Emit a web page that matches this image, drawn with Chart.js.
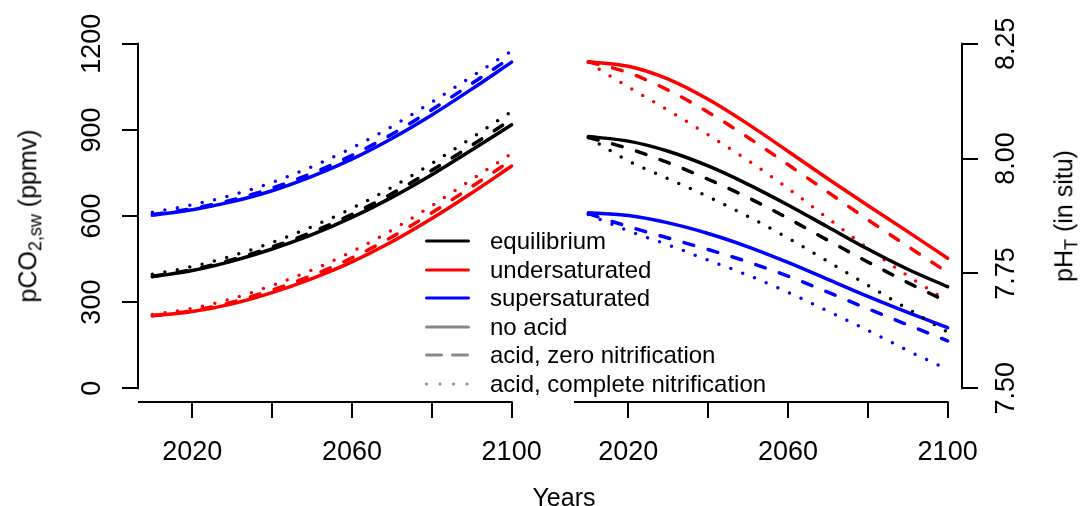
<!DOCTYPE html>
<html>
<head>
<meta charset="utf-8">
<script src="https://cdn.jsdelivr.net/npm/chart.js@4.4.1/dist/chart.umd.min.js"></script>
<style>
  body { margin: 0; width: 1080px; height: 506px; background: #fff; position: relative; overflow: hidden;
         font-family: "Liberation Sans", Arial, Helvetica, sans-serif; color: #000; }
  canvas { position: absolute; top: 0; }
  #c1 { left: 0; }
  #c2 { left: 545px; }
  .ttl { position: absolute; font-size: 25px; white-space: nowrap; transform: translate(-50%, -50%) rotate(-90deg); }
  .ttl sub { font-size: 0.72em; vertical-align: -0.3em; }
  #years { position: absolute; left: 564px; top: 497px; font-size: 25px; transform: translate(-50%, -50%); }
  #legend { position: absolute; left: 425px; top: 227px; font-size: 24px; }
  #legend .row { height: 28.5px; display: flex; align-items: center; white-space: nowrap; }
  #legend svg { width: 45px; height: 10px; margin-right: 20px; }
</style>
</head>
<body>
<canvas id="c1" width="545" height="506"></canvas>
<canvas id="c2" width="535" height="506"></canvas>
<div class="ttl" style="left:30px; top:216px;">pCO<sub>2,sw</sub> (ppmv)</div>
<div class="ttl" style="left:1066px; top:216px;">pH<sub>T</sub> (in situ)</div>
<div id="years">Years</div>
<div id="legend"></div>
<script>
// years of the model runs
const years = [2010, 2020, 2030, 2040, 2050, 2060, 2070, 2080, 2090, 2100];

// pCO2 (ppmv), left panel
const co2Equil     = [388, 410, 443, 485, 535, 595, 665, 744, 830, 918];
const co2EquilDash = [390, 413, 448, 492, 544, 606, 678, 759, 846, 937];
const co2EquilDot  = [397, 424, 461, 508, 563, 627, 700, 783, 872, 964];
const co2Under     = [252, 267, 294, 333, 382, 440, 510, 591, 680, 774];
const co2UnderDash = [253, 270, 300, 342, 393, 454, 527, 611, 702, 795];
const co2UnderDot  = [257, 278, 312, 358, 412, 476, 551, 636, 727, 818];
const co2Super     = [603, 622, 650, 688, 738, 798, 870, 952, 1042, 1136];
const co2SuperDash = [605, 626, 656, 697, 749, 811, 885, 970, 1061, 1154];
const co2SuperDot  = [613, 639, 673, 717, 772, 837, 912, 997, 1086, 1175];

// pH (total scale, in situ), right panel
const phEquil     = [8.048, 8.038, 8.016, 7.984, 7.944, 7.899, 7.851, 7.803, 7.759, 7.721];
const phEquilDash = [8.046, 8.022, 7.991, 7.955, 7.915, 7.870, 7.822, 7.775, 7.730, 7.688];
const phEquilDot  = [8.046, 7.995, 7.956, 7.917, 7.874, 7.827, 7.776, 7.724, 7.673, 7.622];
const phUnder     = [8.211, 8.201, 8.173, 8.129, 8.075, 8.016, 7.956, 7.898, 7.841, 7.783];
const phUnderDash = [8.211, 8.187, 8.149, 8.101, 8.046, 7.987, 7.927, 7.867, 7.809, 7.752];
const phUnderDot  = [8.209, 8.156, 8.105, 8.052, 7.996, 7.935, 7.870, 7.805, 7.745, 7.690];
const phSuper     = [7.882, 7.876, 7.860, 7.837, 7.808, 7.774, 7.737, 7.700, 7.665, 7.632];
const phSuperDash = [7.880, 7.852, 7.827, 7.802, 7.775, 7.744, 7.709, 7.673, 7.638, 7.603];
const phSuperDot  = [7.878, 7.843, 7.812, 7.779, 7.746, 7.709, 7.668, 7.626, 7.582, 7.541];

// axis ticks
const xTicks = [2020, 2040, 2060, 2080, 2100];
const xTickLabels = ['2020', '', '2060', '', '2100'];
const co2Ticks = [0, 300, 600, 900, 1200];
const co2TickLabels = ['0', '300', '600', '900', '1200'];
const phTicks = [7.50, 7.75, 8.00, 8.25];
const phTickLabels = ['7.50', '7.75', '8.00', '8.25'];

const legendLabels = ['equilibrium', 'undersaturated', 'supersaturated', 'no acid',
                      'acid, zero nitrification', 'acid, complete nitrification'];

const FONT = '"Liberation Sans", Arial, Helvetica, sans-serif';
const RED = '#ff0000', BLUE = '#0000ff', BLACK = '#000000', GREY = '#888888';
const DASH = [10, 15], DOT = [0, 12.7];

function line(data, color, dash) {
  return {
    data: data.map((v, i) => ({ x: years[i], y: v })),
    borderColor: color,
    borderWidth: 3.5,
    borderDash: dash || [],
    borderCapStyle: 'round',
    pointRadius: 0,
    cubicInterpolationMode: 'monotone',
    fill: false,
    clip: false
  };
}

// R-style detached axes: axis lines only across the tick range, rotated y labels
const rAxes = {
  id: 'rAxes',
  afterDraw(chart, args, opts) {
    const ctx = chart.ctx, xs = chart.scales.x, ys = chart.scales.y, a = chart.chartArea;
    ctx.save();
    ctx.strokeStyle = '#000';
    ctx.lineWidth = 2;
    const xEnd = xs.getPixelForValue(xs.ticks[xs.ticks.length - 1].value);
    ctx.beginPath();
    ctx.moveTo(a.left, a.bottom);
    ctx.lineTo(xEnd + 1, a.bottom);
    ctx.stroke();
    const yx = opts.side === 'left' ? a.left : a.right;
    ctx.beginPath();
    ctx.moveTo(yx, ys.getPixelForValue(ys.ticks[0].value) + 1);
    ctx.lineTo(yx, ys.getPixelForValue(ys.ticks[ys.ticks.length - 1].value) - 1);
    ctx.stroke();
    ctx.fillStyle = '#000';
    ctx.font = '27px ' + FONT;
    ctx.textAlign = 'center';
    ctx.textBaseline = 'middle';
    const lx = opts.side === 'left' ? yx - opts.gap : yx + opts.gap;
    ys.ticks.forEach((t, i) => {
      ctx.save();
      ctx.translate(lx, ys.getPixelForValue(t.value));
      ctx.rotate(-Math.PI / 2);
      ctx.fillText(opts.labels[i], 0, 0);
      ctx.restore();
    });
    ctx.restore();
  }
};

function makeChart(id, datasets, side, yMin, yMax, yTicks, yLabels, padding, yWidth) {
  return new Chart(document.getElementById(id), {
    type: 'line',
    data: { datasets: datasets },
    options: {
      responsive: false,
      animation: false,
      layout: { padding: padding },
      plugins: {
        legend: { display: false },
        tooltip: { enabled: false },
        rAxes: { side: side, labels: yLabels, gap: 45 }
      },
      scales: {
        x: {
          type: 'linear',
          min: 2006.4,
          max: 2103.6,
          afterBuildTicks: s => { s.ticks = xTicks.map(v => ({ value: v })); },
          afterFit: s => { s.height = 104; s.paddingLeft = 0; s.paddingRight = 0; },
          grid: { drawOnChartArea: false, drawTicks: true, tickLength: 16, color: '#000', lineWidth: 2 },
          border: { display: false },
          ticks: {
            autoSkip: false,
            maxRotation: 0,
            padding: 18,
            color: '#000',
            font: { family: FONT, size: 27 },
            callback: (v, i) => xTickLabels[i]
          }
        },
        y: {
          type: 'linear',
          position: side,
          min: yMin,
          max: yMax,
          afterBuildTicks: s => { s.ticks = yTicks.map(v => ({ value: v })); },
          afterFit: s => { s.width = yWidth; s.paddingTop = 0; s.paddingBottom = 0; },
          grid: { drawOnChartArea: false, drawTicks: true, tickLength: 16, color: '#000', lineWidth: 2 },
          border: { display: false },
          ticks: { display: false }
        }
      }
    },
    plugins: [rAxes]
  });
}

makeChart('c1', [
  line(co2Equil, BLACK), line(co2EquilDash, BLACK, DASH), line(co2EquilDot, BLACK, DOT),
  line(co2Under, RED), line(co2UnderDash, RED, DASH), line(co2UnderDot, RED, DOT),
  line(co2Super, BLUE), line(co2SuperDash, BLUE, DASH), line(co2SuperDot, BLUE, DOT)
], 'left', -48, 1248, co2Ticks, co2TickLabels, { top: 30, right: 19, bottom: 0, left: 0 }, 138);

makeChart('c2', [
  line(phEquil, BLACK), line(phEquilDash, BLACK, DASH), line(phEquilDot, BLACK, DOT),
  line(phUnder, RED), line(phUnderDash, RED, DASH), line(phUnderDot, RED, DOT),
  line(phSuper, BLUE), line(phSuperDash, BLUE, DASH), line(phSuperDot, BLUE, DOT)
], 'right', 7.47, 8.28, phTicks, phTickLabels, { top: 30, right: 0, bottom: 0, left: 29 }, 118);

// legend (HTML, like R's legend box without frame)
const legendStyles = [
  { color: BLACK, dash: '' }, { color: RED, dash: '' }, { color: BLUE, dash: '' },
  { color: GREY, dash: '' }, { color: GREY, dash: '15 11' }, { color: GREY, dash: '0 13.5' }
];
const legendEl = document.getElementById('legend');
legendLabels.forEach((txt, i) => {
  const st = legendStyles[i];
  const row = document.createElement('div');
  row.className = 'row';
  row.innerHTML = '<svg viewBox="0 0 45 10"><line x1="1.5" y1="5" x2="43.5" y2="5" stroke="' + st.color +
    '" stroke-width="3" stroke-linecap="round"' + (st.dash ? ' stroke-dasharray="' + st.dash + '"' : '') +
    '/></svg><span>' + txt + '</span>';
  legendEl.appendChild(row);
});
</script>
</body>
</html>
